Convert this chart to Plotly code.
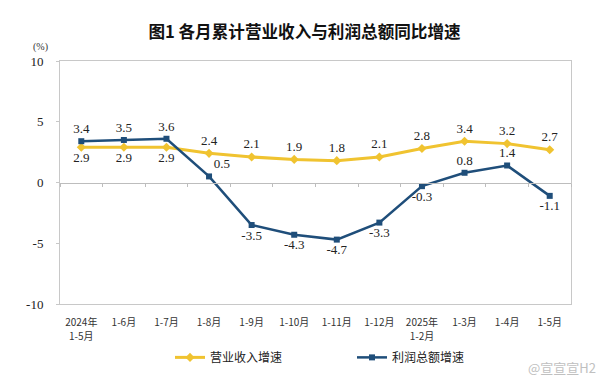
import plotly.graph_objects as go

categories = ["2024年1-5月", "1-6月", "1-7月", "1-8月", "1-9月", "1-10月",
              "1-11月", "1-12月", "2025年1-2月", "1-3月", "1-4月", "1-5月"]
tick_line1 = ["2024年", "1-6月", "1-7月", "1-8月", "1-9月", "1-10月",
              "1-11月", "1-12月", "2025年", "1-3月", "1-4月", "1-5月"]
tick_line2 = ["1-5月", "", "", "", "", "", "", "", "1-2月", "", "", ""]
revenue = [2.9, 2.9, 2.9, 2.4, 2.1, 1.9, 1.8, 2.1, 2.8, 3.4, 3.2, 2.7]
profit = [3.4, 3.5, 3.6, 0.5, -3.5, -4.3, -4.7, -3.3, -0.3, 0.8, 1.4, -1.1]
rev_pos = ["bottom center"] * 3 + ["top center"] * 9
pro_pos = (["top center"] * 3 + ["top right"] + ["bottom center"] * 5
           + ["top center"] * 2 + ["bottom center"])
yticks = [10, 5, 0, -5, -10]

YELLOW = "#F0C330"
BLUE = "#1F4E7A"
serif = "Liberation Serif"
cjk = "Noto Sans CJK SC"

fig = go.Figure()
fig.add_trace(go.Scatter(
    x=categories, y=revenue, name="营业收入增速", mode="lines+markers+text",
    line=dict(color=YELLOW, width=3), marker=dict(symbol="diamond", size=7, color=YELLOW),
    text=[f"{v:.1f}" for v in revenue], textposition=rev_pos,
    textfont=dict(family=serif, size=13, color="#222"), cliponaxis=False))
fig.add_trace(go.Scatter(
    x=categories, y=profit, name="利润总额增速", mode="lines+markers+text",
    line=dict(color=BLUE, width=2.5), marker=dict(symbol="square", size=6, color=BLUE),
    text=[f"{v:.1f}" for v in profit], textposition=pro_pos,
    textfont=dict(family=serif, size=13, color="#222"), cliponaxis=False))
# helper traces for the zero-line axis and the second line of tick labels
fig.add_trace(go.Scatter(x=categories, y=[0] * len(categories), xaxis="x2",
                         mode="lines", line=dict(width=0), hoverinfo="skip",
                         showlegend=False))
fig.add_trace(go.Scatter(x=categories, y=[0] * len(categories), xaxis="x3",
                         mode="lines", line=dict(width=0), hoverinfo="skip",
                         showlegend=False))

fig.update_layout(
    width=599, height=378,
    margin=dict(l=52, r=36, t=53, b=82),
    paper_bgcolor="white", plot_bgcolor="white",
    title=dict(text="<b>图1 各月累计营业收入与利润总额同比增速</b>", x=0.495, xanchor="center",
               y=0.937, yanchor="middle", font=dict(family=cjk, size=16.6, color="#111")),
    xaxis=dict(type="category", categoryorder="array", categoryarray=categories,
               tickmode="array", tickvals=categories, ticktext=tick_line1,
               showline=True, linecolor="#C8C8C8", linewidth=1, mirror=True,
               showgrid=False, ticks="", tickfont=dict(family=cjk, size=10, color="#333"),
               ticklabelstandoff=9, range=[-0.5, 11.5]),
    xaxis2=dict(type="category", categoryorder="array", categoryarray=categories,
                overlaying="x", anchor="free", position=0.5, side="bottom",
                showline=True, linecolor="#BDBDBD", linewidth=1, showgrid=False,
                ticks="outside", ticklen=3, tickcolor="#BDBDBD", tickson="boundaries",
                showticklabels=False, range=[-0.5, 11.5]),
    xaxis3=dict(type="category", categoryorder="array", categoryarray=categories,
                overlaying="x", anchor="y", side="bottom", showline=False, showgrid=False,
                ticks="", tickmode="array", tickvals=categories, ticktext=tick_line2,
                tickfont=dict(family=cjk, size=10, color="#333"),
                ticklabelstandoff=25, range=[-0.5, 11.5]),
    yaxis=dict(range=[-10, 10], tickvals=yticks, ticktext=[str(v) for v in yticks],
               showline=True, linecolor="#C8C8C8", linewidth=1, mirror=True,
               showgrid=False, zeroline=False, ticks="outside", ticklen=3, tickcolor="#C8C8C8",
               ticklabelstandoff=10,
               tickfont=dict(family=serif, size=13, color="#222")),
    legend=dict(orientation="h", x=(170 - 60) / 511, xanchor="left", y=-0.16, yanchor="top",
                font=dict(family=cjk, size=12, color="#222"), entrywidth=137,
                bgcolor="rgba(0,0,0,0)"),
    showlegend=True,
    annotations=[
        dict(text="(%)", x=-20 / 511, y=1 + 6 / 243, xref="paper", yref="paper",
             showarrow=False, xanchor="center", yanchor="bottom",
             font=dict(family=serif, size=10, color="#333")),
        dict(text="@宣宣宣H2", x=(598 - 60) / 511, y=-52 / 243, xref="paper", yref="paper",
             showarrow=False, xanchor="right", yanchor="top",
             font=dict(family=cjk, size=13, color="#C0C0C0")),
    ],
)

fig.write_html("out.html")
